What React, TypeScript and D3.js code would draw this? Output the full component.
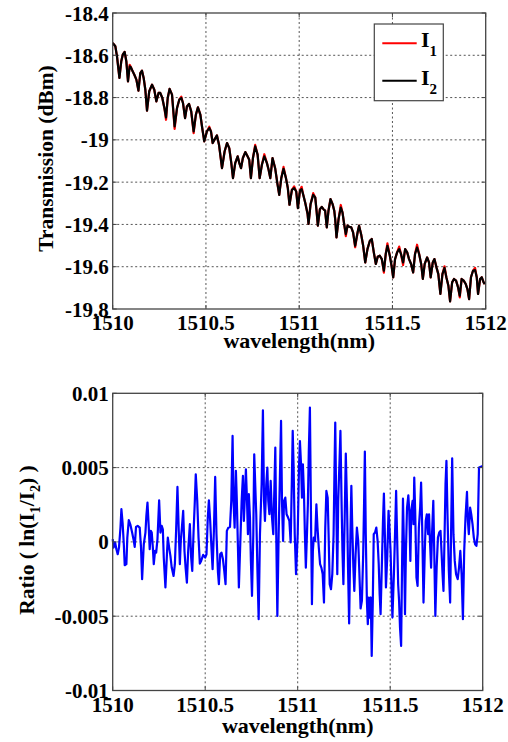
import React from "react";
import * as d3 from "d3";

// ---------- Data ----------
const wlTop = [
  1510.000, 1510.014, 1510.023, 1510.036, 1510.046, 1510.054, 1510.064, 1510.073, 1510.082, 1510.091,
  1510.098, 1510.107, 1510.116, 1510.127, 1510.138, 1510.148, 1510.157, 1510.166, 1510.175, 1510.184,
  1510.196, 1510.211, 1510.223, 1510.234, 1510.246, 1510.255, 1510.266, 1510.277, 1510.286, 1510.295,
  1510.305, 1510.318, 1510.332, 1510.345, 1510.357, 1510.368, 1510.377, 1510.388, 1510.398, 1510.409,
  1510.421, 1510.434, 1510.446, 1510.457, 1510.470, 1510.480, 1510.491, 1510.505, 1510.518, 1510.527,
  1510.536, 1510.546, 1510.559, 1510.570, 1510.586, 1510.600, 1510.613, 1510.625, 1510.636, 1510.645,
  1510.657, 1510.670, 1510.679, 1510.688, 1510.698, 1510.711, 1510.723, 1510.732, 1510.741, 1510.752,
  1510.764, 1510.777, 1510.788, 1510.800, 1510.813, 1510.827, 1510.836, 1510.845, 1510.857, 1510.871,
  1510.884, 1510.893, 1510.904, 1510.916, 1510.929, 1510.939, 1510.948, 1510.961, 1510.973, 1510.984,
  1510.993, 1511.004,
  1511.013, 1511.021, 1511.032, 1511.045, 1511.050, 1511.061, 1511.075, 1511.086, 1511.093, 1511.100,
  1511.111, 1511.121, 1511.130, 1511.139, 1511.148, 1511.157, 1511.168, 1511.179, 1511.188, 1511.193,
  1511.200, 1511.211, 1511.223, 1511.232, 1511.241, 1511.250, 1511.259, 1511.268, 1511.279, 1511.289,
  1511.300, 1511.313, 1511.321, 1511.332, 1511.343, 1511.354, 1511.366, 1511.379, 1511.389, 1511.400,
  1511.411, 1511.421, 1511.432, 1511.443, 1511.454, 1511.464, 1511.473, 1511.486, 1511.495, 1511.504,
  1511.514, 1511.525, 1511.536, 1511.546, 1511.557, 1511.568, 1511.579, 1511.589, 1511.600, 1511.611,
  1511.621, 1511.632, 1511.643, 1511.654, 1511.663, 1511.673, 1511.686, 1511.696, 1511.705, 1511.716,
  1511.725, 1511.736, 1511.746, 1511.757, 1511.768, 1511.779, 1511.789, 1511.800, 1511.809, 1511.820,
  1511.830, 1511.841, 1511.852, 1511.861, 1511.871, 1511.882, 1511.893, 1511.902, 1511.911, 1511.921,
  1511.932, 1511.943, 1511.952, 1511.959, 1511.970, 1511.979, 1511.989, 1511.995,
];

const I1 = [
  -18.542, -18.557, -18.605, -18.707, -18.628, -18.597, -18.584, -18.628, -18.723, -18.645,
  -18.657, -18.676, -18.692, -18.715, -18.767, -18.684, -18.673, -18.707, -18.763, -18.862,
  -18.770, -18.739, -18.763, -18.818, -18.778, -18.778, -18.802, -18.849, -18.905, -18.802,
  -18.759, -18.786, -18.948, -18.849, -18.810, -18.796, -18.826, -18.897, -18.842, -18.830,
  -18.865, -18.968, -18.881, -18.846, -18.881, -18.944, -19.007, -18.960, -18.938, -18.960,
  -19.015, -18.999, -18.979, -19.023, -19.134, -19.055, -19.015, -19.039, -19.110, -19.181,
  -19.110, -19.078, -19.110, -19.134, -19.086, -19.058, -19.078, -19.094, -19.181, -19.086,
  -19.024, -19.070, -19.181, -19.118, -19.068, -19.110, -19.141, -19.181, -19.086, -19.134,
  -19.212, -19.260, -19.181, -19.128, -19.181, -19.228, -19.307, -19.236, -19.220, -19.244,
  -19.323, -19.240,
  -19.222, -19.257, -19.296, -19.351, -19.398, -19.304, -19.252, -19.272, -19.335, -19.406,
  -19.328, -19.317, -19.328, -19.335, -19.414, -19.335, -19.280, -19.304, -19.335, -19.375,
  -19.461, -19.375, -19.308, -19.343, -19.398, -19.455, -19.406, -19.411, -19.414, -19.438,
  -19.508, -19.438, -19.406, -19.446, -19.501, -19.580, -19.517, -19.477, -19.469, -19.532,
  -19.587, -19.553, -19.548, -19.564, -19.628, -19.540, -19.490, -19.548, -19.595, -19.650,
  -19.564, -19.532, -19.505, -19.540, -19.592, -19.517, -19.532, -19.564, -19.587, -19.627,
  -19.540, -19.496, -19.540, -19.587, -19.658, -19.587, -19.556, -19.580, -19.650, -19.580,
  -19.564, -19.603, -19.635, -19.729, -19.635, -19.598, -19.650, -19.690, -19.764, -19.674,
  -19.658, -19.666, -19.698, -19.745, -19.658, -19.666, -19.682, -19.706, -19.753, -19.650,
  -19.619, -19.606, -19.650, -19.729, -19.658, -19.650, -19.674, -19.682,
];

const I2 = [
  -18.542, -18.557, -18.605, -18.707, -18.628, -18.597, -18.584, -18.628, -18.723, -18.652,
  -18.657, -18.676, -18.692, -18.715, -18.767, -18.684, -18.673, -18.707, -18.763, -18.862,
  -18.770, -18.739, -18.763, -18.818, -18.778, -18.778, -18.802, -18.849, -18.894, -18.802,
  -18.759, -18.786, -18.936, -18.849, -18.810, -18.802, -18.826, -18.897, -18.842, -18.830,
  -18.865, -18.960, -18.881, -18.846, -18.881, -18.944, -19.007, -18.960, -18.944, -18.960,
  -19.015, -18.999, -18.979, -19.023, -19.134, -19.055, -19.015, -19.039, -19.110, -19.181,
  -19.110, -19.078, -19.110, -19.134, -19.086, -19.058, -19.078, -19.094, -19.181, -19.086,
  -19.031, -19.070, -19.181, -19.118, -19.078, -19.110, -19.141, -19.181, -19.086, -19.134,
  -19.212, -19.260, -19.181, -19.137, -19.181, -19.228, -19.307, -19.236, -19.228, -19.244,
  -19.323, -19.240,
  -19.233, -19.257, -19.296, -19.351, -19.398, -19.304, -19.260, -19.272, -19.335, -19.406,
  -19.328, -19.317, -19.328, -19.335, -19.414, -19.335, -19.280, -19.304, -19.335, -19.375,
  -19.461, -19.375, -19.320, -19.343, -19.398, -19.446, -19.406, -19.411, -19.414, -19.438,
  -19.501, -19.438, -19.406, -19.446, -19.501, -19.580, -19.517, -19.477, -19.469, -19.532,
  -19.587, -19.553, -19.548, -19.564, -19.619, -19.540, -19.501, -19.548, -19.595, -19.650,
  -19.564, -19.532, -19.517, -19.540, -19.580, -19.517, -19.532, -19.564, -19.587, -19.627,
  -19.540, -19.509, -19.540, -19.587, -19.658, -19.587, -19.556, -19.580, -19.650, -19.580,
  -19.564, -19.603, -19.635, -19.729, -19.635, -19.606, -19.650, -19.690, -19.764, -19.674,
  -19.658, -19.666, -19.698, -19.737, -19.658, -19.666, -19.682, -19.706, -19.753, -19.650,
  -19.619, -19.616, -19.650, -19.729, -19.658, -19.650, -19.674, -19.682,
];

const wlRatio = [
  1510.000, 1510.005, 1510.013, 1510.020, 1510.027, 1510.034, 1510.042, 1510.047, 1510.054, 1510.060,
  1510.065, 1510.074, 1510.079, 1510.087, 1510.096, 1510.105, 1510.114, 1510.119, 1510.126, 1510.135,
  1510.146, 1510.153, 1510.159, 1510.168, 1510.177, 1510.182, 1510.188, 1510.195, 1510.200, 1510.206,
  1510.211, 1510.217, 1510.222, 1510.229, 1510.235, 1510.242, 1510.251, 1510.258, 1510.265, 1510.271,
  1510.276, 1510.285, 1510.294, 1510.298, 1510.305, 1510.312, 1510.319, 1510.329, 1510.336, 1510.343,
  1510.350, 1510.357, 1510.363, 1510.368, 1510.374, 1510.381, 1510.388, 1510.394, 1510.401, 1510.408,
  1510.417, 1510.424, 1510.430, 1510.437, 1510.444, 1510.449, 1510.457, 1510.464, 1510.471, 1510.478,
  1510.489, 1510.500, 1510.507, 1510.514, 1510.520, 1510.527, 1510.532, 1510.540, 1510.547, 1510.554,
  1510.561, 1510.569, 1510.574, 1510.581, 1510.588, 1510.596, 1510.603, 1510.610, 1510.617, 1510.625,
  1510.634, 1510.641, 1510.648, 1510.653, 1510.659, 1510.666, 1510.671, 1510.677, 1510.682, 1510.690,
  1510.697, 1510.704, 1510.709, 1510.715, 1510.720, 1510.726, 1510.731, 1510.736, 1510.742, 1510.747,
  1510.753, 1510.760, 1510.765, 1510.771, 1510.776, 1510.782, 1510.789, 1510.796, 1510.805, 1510.812,
  1510.818, 1510.823, 1510.830, 1510.836, 1510.841, 1510.847, 1510.854, 1510.861, 1510.868, 1510.874,
  1510.879, 1510.884, 1510.890, 1510.897, 1510.903, 1510.910, 1510.915, 1510.921, 1510.926, 1510.933,
  1510.940, 1510.948, 1510.955, 1510.962, 1510.968, 1510.973, 1510.978, 1510.984, 1510.991,
  1511.000, 1511.007, 1511.012, 1511.018, 1511.023, 1511.028, 1511.034, 1511.039, 1511.044, 1511.050,
  1511.055, 1511.060, 1511.066, 1511.071, 1511.077, 1511.082, 1511.087, 1511.094, 1511.101, 1511.107,
  1511.114, 1511.121, 1511.128, 1511.135, 1511.142, 1511.149, 1511.155, 1511.162, 1511.167, 1511.173,
  1511.180, 1511.187, 1511.194, 1511.199, 1511.203, 1511.208, 1511.214, 1511.219, 1511.226, 1511.231,
  1511.237, 1511.242, 1511.247, 1511.254, 1511.260, 1511.267, 1511.272, 1511.278, 1511.285, 1511.290,
  1511.295, 1511.301, 1511.306, 1511.313, 1511.320, 1511.327, 1511.333, 1511.340, 1511.347, 1511.354,
  1511.359, 1511.363, 1511.368, 1511.374, 1511.379, 1511.384, 1511.390, 1511.395, 1511.400, 1511.406,
  1511.411, 1511.418, 1511.425, 1511.432, 1511.438, 1511.443, 1511.448, 1511.456, 1511.461, 1511.466,
  1511.472, 1511.477, 1511.484, 1511.491, 1511.496, 1511.502, 1511.507, 1511.512, 1511.520, 1511.527,
  1511.532, 1511.537, 1511.543, 1511.548, 1511.553, 1511.559, 1511.564, 1511.569, 1511.575, 1511.580,
  1511.585, 1511.591, 1511.598, 1511.603, 1511.609, 1511.614, 1511.621, 1511.626, 1511.630, 1511.635,
  1511.642, 1511.648, 1511.655, 1511.662, 1511.667, 1511.673, 1511.680, 1511.687, 1511.692, 1511.698,
  1511.705, 1511.710, 1511.715, 1511.721, 1511.726, 1511.733, 1511.738, 1511.744, 1511.751, 1511.758,
  1511.765, 1511.772, 1511.778, 1511.783, 1511.788, 1511.794, 1511.799, 1511.804, 1511.810, 1511.817,
  1511.824, 1511.829, 1511.835, 1511.842, 1511.849, 1511.856, 1511.865, 1511.872, 1511.879, 1511.886,
  1511.893, 1511.900, 1511.907, 1511.915, 1511.920, 1511.925, 1511.932, 1511.938, 1511.945, 1511.952,
  1511.959, 1511.966, 1511.973, 1511.980, 1512.000,
];

const ratio = [
  0.00018, -0.00038, -0.00004, -0.00049, -0.00083, -0.00038, 0.00096, 0.00220, 0.00119, -0.00016,
  -0.00157, -0.00150, 0.00029, 0.00146, 0.00114, 0.00063, 0.00007, -0.00034, 0.00101, 0.00108,
  0.00096, -0.00038, -0.00251, -0.00016, 0.00063, 0.00175, 0.00265, 0.00096, -0.00049, 0.00074,
  0.00063, -0.00038, -0.00150, -0.00061, -0.00072, 0.00018, 0.00280, 0.00063, 0.00108, 0.00085,
  -0.00105, -0.00307, -0.00061, 0.00029, -0.00038, -0.00094, -0.00173, -0.00229, -0.00150, 0.00085,
  0.00370, 0.00074, -0.00150, 0.00007, 0.00096, 0.00209, -0.00061, -0.00173, -0.00274, -0.00061,
  0.00119, -0.00105, -0.00195, 0.00063, 0.00276, 0.00455, 0.00276, 0.00029, -0.00146, -0.00128,
  -0.00087, -0.00105, -0.00083, 0.00164, 0.00280, 0.00141, 0.00007, -0.00184, 0.00074, 0.00437,
  0.00052, -0.00206, -0.00285, -0.00083, -0.00072, -0.00117, -0.00195, -0.00285, 0.00074, 0.00096,
  0.00101, 0.00276, 0.00713, 0.00276, 0.00096, 0.00478, 0.00276, -0.00038, -0.00307, 0.00007,
  0.00276, 0.00444, 0.00141, 0.00321, 0.00489, 0.00276, 0.00052, 0.00321, 0.00164, -0.00128,
  -0.00363, 0.00052, 0.00590, 0.00365, 0.00186, -0.00173, -0.00520, 0.00052, 0.00388, 0.00886,
  0.00276, 0.00141, 0.00388, 0.00500, 0.00276, 0.00186, 0.00410, 0.00164, 0.00052, 0.00365,
  0.00635, 0.00052, -0.00498, 0.00052, 0.00388, 0.00814, 0.00276, 0.00007, 0.00276, 0.00298,
  0.00186, 0.00164, 0.00141, -0.00004, 0.00388, 0.00747, 0.00500, 0.00052, -0.00217,
  0.00052, 0.00500, 0.00679, 0.00522, 0.00298, 0.00522, 0.00321, 0.00052, -0.00173, 0.00052,
  0.00253, 0.00612, 0.00904, 0.00276, -0.00419, -0.00061, 0.00029, 0.00007, 0.00253, 0.00096,
  -0.00038, -0.00150, -0.00173, -0.00217, -0.00408, 0.00096, 0.00343, 0.00298, 0.00052, -0.00285,
  -0.00318, -0.00217, 0.00052, 0.00500, 0.00803, 0.00276, -0.00217, 0.00276, 0.00545, 0.00747,
  0.00276, -0.00061, -0.00285, 0.00164, 0.00594, 0.00231, -0.00173, -0.00549, 0.00052, 0.00377,
  0.00096, -0.00173, -0.00330, -0.00083, 0.00096, 0.00007, -0.00195, -0.00448, -0.00397, -0.00083,
  0.00276, 0.00608, 0.00052, -0.00397, -0.00554, -0.00374, -0.00509, -0.00374, -0.00767, -0.00397,
  0.00052, 0.00063, 0.00096, 0.00007, -0.00150, -0.00352, -0.00487, -0.00105, 0.00141, 0.00325,
  0.00007, -0.00307, -0.00105, 0.00209, 0.00096, -0.00061, -0.00307, -0.00509, -0.00217, 0.00096,
  0.00343, 0.00052, -0.00285, -0.00397, -0.00576, -0.00700, -0.00173, 0.00291, -0.00061, -0.00487,
  -0.00061, 0.00231, 0.00314, 0.00209, -0.00128, 0.00209, 0.00276, 0.00119, 0.00433, 0.00209,
  -0.00240, -0.00296, 0.00096, 0.00235, 0.00399, 0.00096, -0.00408, -0.00061, 0.00141, 0.00186,
  0.00052, 0.00186, 0.00007, -0.00173, 0.00052, 0.00276, -0.00061, -0.00498, -0.00173, 0.00029,
  0.00063, 0.00074, -0.00083, -0.00217, -0.00330, 0.00052, 0.00388, 0.00545, 0.00164, -0.00195,
  -0.00408, 0.00052, 0.00563, 0.00052, -0.00128, -0.00217, -0.00251, -0.00173, -0.00061, -0.00217,
  -0.00520, -0.00061, 0.00164, 0.00336, 0.00141, 0.00052, 0.00231, 0.00186, 0.00119, 0.00029,
  -0.00016, -0.00027, 0.00052, 0.00500, 0.00510,
];

const xTicks = [1510, 1510.5, 1511, 1511.5, 1512];
const xTickLabels = ["1510", "1510.5", "1511", "1511.5", "1512"];
const topYTicks = [-18.4, -18.6, -18.8, -19, -19.2, -19.4, -19.6, -19.8];
const topYTickLabels = ["-18.4", "-18.6", "-18.8", "-19", "-19.2", "-19.4", "-19.6", "-19.8"];
const ratioTicks = [0.01, 0.005, 0, -0.005, -0.01];
const ratioTickLabels = ["0.01", "0.005", "0", "-0.005", "-0.01"];
const seriesNames = ["I", "I"];
const seriesSubs = ["1", "2"];

// ---------- Layout ----------
const W = 508;
const H = 742;
const FONT = "'Liberation Serif', 'Times New Roman', serif";
const FRAME = "#444";
const GRID = "#555";

const top = { left: 112.7, right: 485.7, top: 13, bottom: 309 };
const bot = { left: 112.7, right: 482.7, top: 393.3, bottom: 690.5 };

function Panel({ box, x, y, xt, xtl, yt, ytl, labelOffset, children }: any) {
  return (
    <g>
      {xt.slice(1, -1).map((t: number, i: number) => (
        <line key={"gx" + i} x1={x(t)} x2={x(t)} y1={box.top} y2={box.bottom}
          stroke={GRID} strokeWidth={1} strokeDasharray="2,2.5" />
      ))}
      {yt.slice(1, -1).map((t: number, i: number) => (
        <line key={"gy" + i} x1={box.left} x2={box.right} y1={y(t)} y2={y(t)}
          stroke={GRID} strokeWidth={1} strokeDasharray="2,2.5" />
      ))}
      {children}
      <rect x={box.left} y={box.top} width={box.right - box.left} height={box.bottom - box.top}
        fill="none" stroke={FRAME} strokeWidth={1.3} />
      {xt.map((t: number, i: number) => (
        <g key={"tx" + i}>
          <line x1={x(t)} x2={x(t)} y1={box.bottom} y2={box.bottom - 4} stroke={FRAME} strokeWidth={1} />
          <line x1={x(t)} x2={x(t)} y1={box.top} y2={box.top + 4} stroke={FRAME} strokeWidth={1} />
          <text x={x(t)} y={box.bottom + 21} textAnchor="middle" fontFamily={FONT}
            fontWeight="bold" fontSize={21}>{xtl[i]}</text>
        </g>
      ))}
      {yt.map((t: number, i: number) => (
        <g key={"ty" + i}>
          <line x1={box.left} x2={box.left + 4} y1={y(t)} y2={y(t)} stroke={FRAME} strokeWidth={1} />
          <line x1={box.right} x2={box.right - 4} y1={y(t)} y2={y(t)} stroke={FRAME} strokeWidth={1} />
          <text x={box.left - 4} y={y(t)} dy="0.36em" textAnchor="end" fontFamily={FONT}
            fontWeight="bold" fontSize={21}>{ytl[i]}</text>
        </g>
      ))}
      <text x={(box.left + box.right) / 2} y={box.bottom + labelOffset} textAnchor="middle"
        fontFamily={FONT} fontWeight="bold" fontSize={22}>wavelength(nm)</text>
    </g>
  );
}

export default function App() {
  const xTop = d3.scaleLinear().domain([1510, 1512]).range([top.left, top.right]);
  const yTop = d3.scaleLinear().domain([-19.8, -18.4]).range([top.bottom, top.top]);
  const xBot = d3.scaleLinear().domain([1510, 1512]).range([bot.left, bot.right]);
  const yBot = d3.scaleLinear().domain([-0.01, 0.01]).range([bot.bottom, bot.top]);

  const lineTop = (vals: number[]) =>
    d3.line<number>().x((_, i) => xTop(wlTop[i])).y((v) => yTop(v))(vals) || "";
  const lineRatio =
    d3.line<number>().x((_, i) => xBot(wlRatio[i])).y((v) => yBot(v))(ratio) || "";

  const lg = { x: 374.3, y: 24, w: 69, h: 76.7 };
  const legendColors = ["#ff0000", "#000000"];
  const legendRows = [43.3, 80.7];

  return (
    <svg width={W} height={H} style={{ position: "absolute", left: 0, top: 0, background: "#fff" }}>
      <rect x={0} y={0} width={W} height={H} fill="#fff" />

      <Panel box={top} x={xTop} y={yTop} xt={xTicks} xtl={xTickLabels} yt={topYTicks} ytl={topYTickLabels} labelOffset={39}>
        <path d={lineTop(I1)} fill="none" stroke="#ff0000" strokeWidth={2.2} strokeLinejoin="round" />
        <path d={lineTop(I2)} fill="none" stroke="#000000" strokeWidth={2.2} strokeLinejoin="round" />
      </Panel>

      <rect x={lg.x} y={lg.y} width={lg.w} height={lg.h} fill="#fff" stroke={FRAME} strokeWidth={1.2} />
      {legendRows.map((ry, i) => (
        <g key={"lg" + i}>
          <line x1={382.3} x2={416.7} y1={ry} y2={ry} stroke={legendColors[i]} strokeWidth={2} />
          <text x={421} y={ry + 4} fontFamily={FONT} fontWeight="bold" fontSize={22}>
            {seriesNames[i]}
            <tspan fontSize={15} dy={9}>{seriesSubs[i]}</tspan>
          </text>
        </g>
      ))}

      <text transform="translate(53,158.5) rotate(-90)" textAnchor="middle" fontFamily={FONT}
        fontWeight="bold" fontSize={21.5}>Transmission (dBm)</text>

      <Panel box={bot} x={xBot} y={yBot} xt={xTicks} xtl={xTickLabels} yt={ratioTicks} ytl={ratioTickLabels} labelOffset={42}>
        <path d={lineRatio} fill="none" stroke="#0000ff" strokeWidth={2.2} strokeLinejoin="round" />
      </Panel>

      <text transform="translate(34,540) rotate(-90)" textAnchor="middle" fontFamily={FONT}
        fontWeight="bold" fontSize={21.5}>
        Ratio ( ln(I<tspan fontSize={14} dy={6}>1</tspan><tspan dy={-6}>/I</tspan>
        <tspan fontSize={14} dy={6}>2</tspan><tspan dy={-6}>) )</tspan>
      </text>
    </svg>
  );
}
